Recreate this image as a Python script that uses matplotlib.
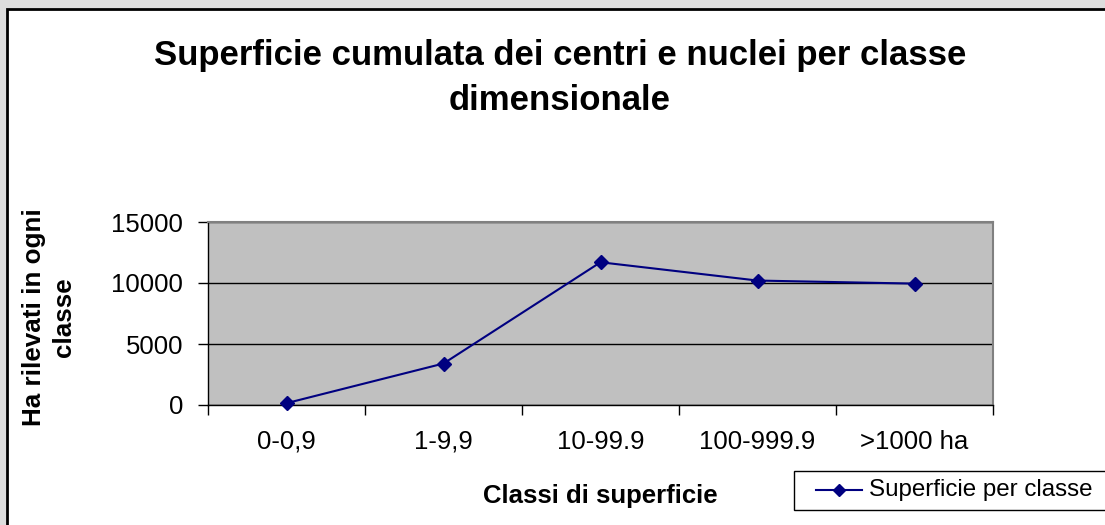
import matplotlib
matplotlib.use("Agg")
import matplotlib.pyplot as plt
from matplotlib.patches import Rectangle
import numpy as np

categories = ["0-0,9", "1-9,9", "10-99.9", "100-999.9", ">1000 ha"]
values = [150, 3400, 11700, 10200, 9950]
yticks = [0, 5000, 10000, 15000]
series_name = "Superficie per classe"

plt.rcParams['font.family'] = ['Liberation Sans', 'DejaVu Sans']

W, H = 1105, 525
fig = plt.figure(figsize=(W / 100, H / 100), dpi=100)
fig.patch.set_facecolor('#DDDDDD')

# outer chart frame (white with black border), clipped at right/bottom
fig.patches.append(Rectangle((7 / W, -0.05), 1.2, 1 - 9 / H + 0.05,
                             transform=fig.transFigure, facecolor='white',
                             edgecolor='black', linewidth=2, zorder=-5))

ax = fig.add_axes([208 / W, 1 - 405 / H, (993 - 208) / W, (405 - 222) / H])
ax.set_zorder(3)
ax.set_facecolor('#C0C0C0')
x = np.arange(len(categories)) + 0.5
ax.plot(x, values, color='#000080', marker='D', markersize=7, linewidth=1.5,
        label=series_name, clip_on=False, zorder=3)
ax.set_xlim(0, len(categories))
ax.set_ylim(0, 15000)
ax.set_yticks(yticks)
ax.set_yticklabels([str(v) for v in yticks], fontsize=18.5)
ax.set_xticks(np.arange(len(categories) + 1))
ax.set_xticklabels([])
ax.set_xticks(x, minor=True)
ax.set_xticklabels(categories, minor=True, fontsize=18.5)
ax.tick_params(axis='x', which='minor', length=0, pad=18)
ax.tick_params(axis='x', which='major', length=7, width=1, direction='out')
ax.tick_params(axis='y', length=7, width=1, direction='out', pad=11)
ax.yaxis.grid(True, color='black', linewidth=1)
ax.set_axisbelow(True)
for s in ['top', 'right']:
    ax.spines[s].set_color('#808080')
    ax.spines[s].set_linewidth(1.5)
for s in ['left', 'bottom']:
    ax.spines[s].set_color('black')
    ax.spines[s].set_linewidth(1)

fig.text(560 / W, 1 - 56 / H, "Superficie cumulata dei centri e nuclei per classe",
         ha='center', va='center', fontsize=25, fontweight='bold')
fig.text(560 / W, 1 - 101 / H, "dimensionale",
         ha='center', va='center', fontsize=25, fontweight='bold')
fig.text(600 / W, 1 - 496 / H, "Classi di superficie",
         ha='center', va='center', fontsize=18.5, fontweight='bold')
fig.text(49 / W, 1 - 317 / H, "Ha rilevati in ogni\nclasse", ha='center', va='center',
         rotation=90, fontsize=18.7, fontweight='bold', linespacing=1.28,
         multialignment='center')

# legend box
fig.patches.append(Rectangle((794 / W, 1 - 510 / H), 0.5, 39 / H,
                             transform=fig.transFigure, facecolor='white',
                             edgecolor='black', linewidth=1, zorder=5))
lx0, lx1, ly = 816, 862, 1 - 490 / H
fig.add_artist(plt.Line2D([lx0 / W, lx1 / W], [ly, ly], color='#000080', linewidth=1.5,
                          transform=fig.transFigure, zorder=6))
fig.add_artist(plt.Line2D([(lx0 + lx1) / 2 / W], [ly], color='#000080', marker='D',
                          markersize=6, transform=fig.transFigure, zorder=6))
fig.text(869 / W, ly, series_name, ha='left', va='center', fontsize=17.4, zorder=7)

fig.savefig("out.png", dpi=100, facecolor=fig.get_facecolor())
